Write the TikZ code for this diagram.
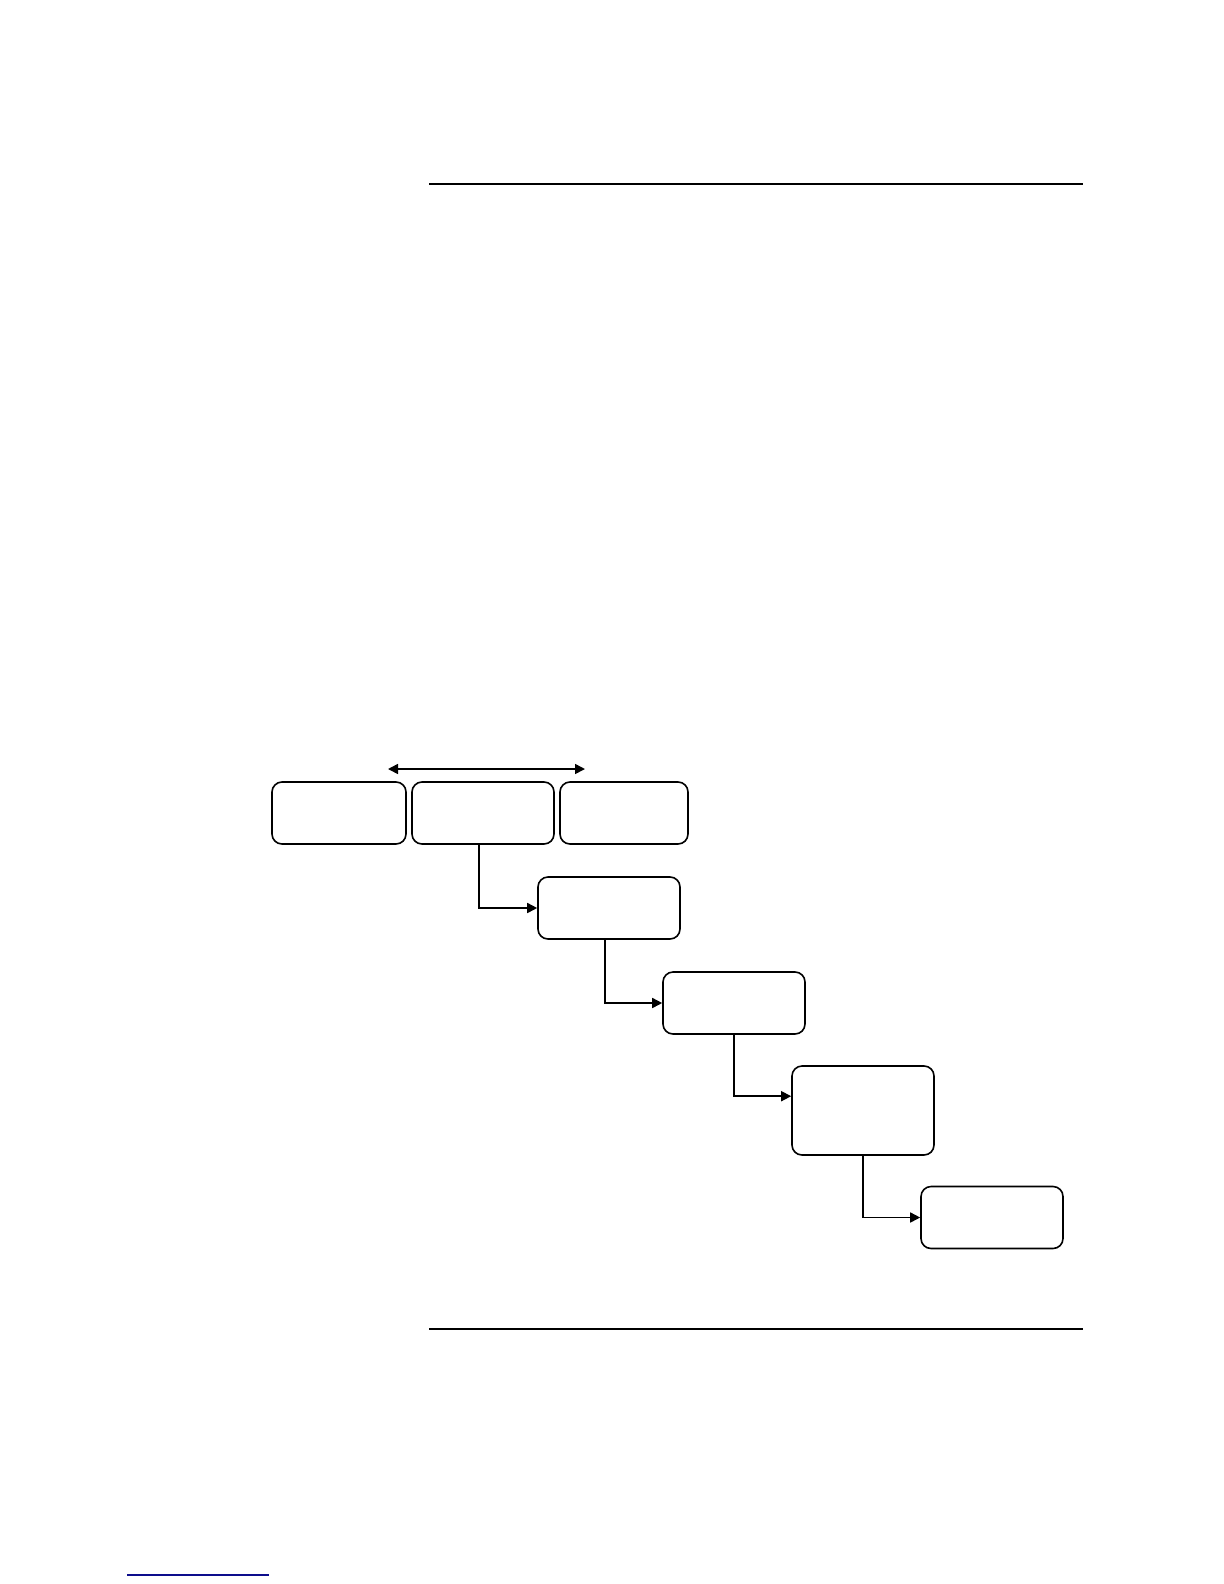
\documentclass[tikz,border=0pt]{standalone}
\usepackage{tikz}
\usetikzlibrary{calc,backgrounds,arrows.meta}
\usetikzlibrary{positioning}
\usepackage{xcolor}
\definecolor{linkblue}{rgb}{0.05,0.05,0.55}
\tikzstyle{chart}=[
  x=0.5pt,y=-0.5pt,>={Triangle[length=5pt,width=5pt]},font=\small
]
\tikzstyle{stepnode}=[
  draw,rectangle,rounded corners=5pt,line width=0.8pt,inner sep=0pt,fill=white,minimum height=31pt
]
\tikzstyle{flowedge}=[
    line width=0.8pt,->
]
\tikzstyle{rule}=[
    line width=1pt
]

\begin{document}
\begin{tikzpicture}[chart]
    \useasboundingbox (0,0) rectangle (1224,1584);
      \draw [rule] (429,184) -- (1083,184);
      \draw [line width=0.6pt] (429,1329) -- (1083,1329);
      \draw [line width=0.6pt,linkblue] (127,1575) -- (269,1575);
      \node (s1) at (339,813) [stepnode,minimum width=67pt] {};
      \node (s2) at (483,813) [stepnode,minimum width=71pt] {};
      \node (s3) at (624,813) [stepnode,minimum width=64pt] {};
      \node (s4) at (609,908) [stepnode,minimum width=71pt] {};
      \node (s5) at (734,1003) [stepnode,minimum width=71pt] {};
      \node (s6) at (863,1110.5) [stepnode,minimum width=71pt,minimum height=44.5pt] {};
      \node (s7) at (992,1217.5) [stepnode,minimum width=71pt] {};
      \coordinate (spanl) at (388,769);
      \coordinate (spanr) at (585,769);
    \begin{scope}[on background layer]
      \draw [flowedge,<->] (spanl) -- (spanr);
      \draw [flowedge] ($(s2.south)+(-4,0)$) |- (s4.west);
      \draw [flowedge] ($(s4.south)+(-4,0)$) |- (s5.west);
      \draw [flowedge] (s5.south) |- ($(s6.north west)+(0,31)$);
      \draw [flowedge] (s6.south) |- (s7.west);
    \end{scope}
\end{tikzpicture}
\end{document}
